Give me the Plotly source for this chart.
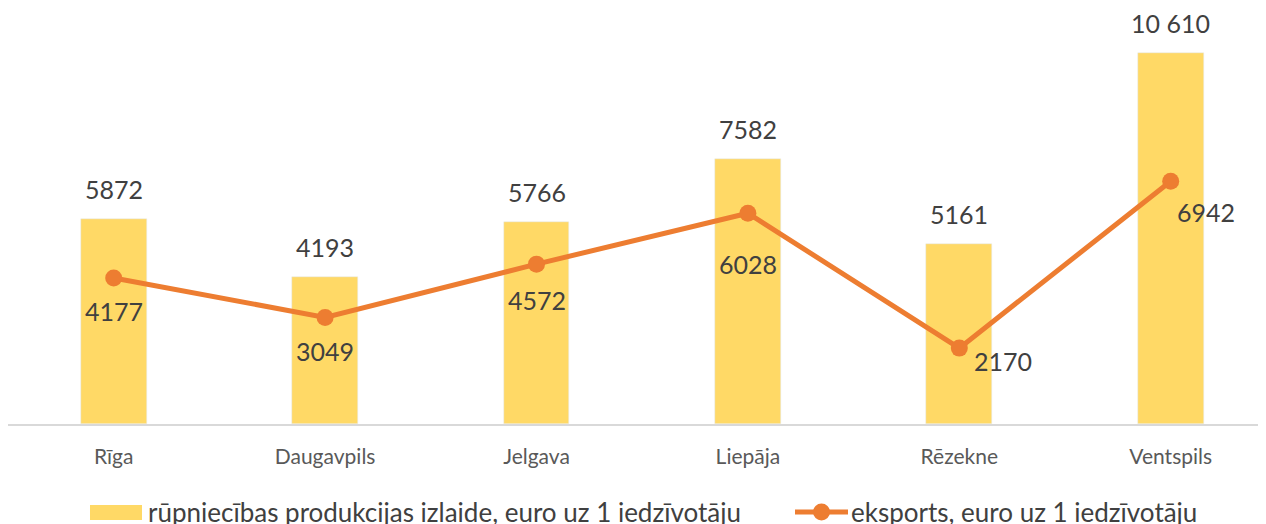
import plotly.graph_objects as go

categories = ["Rīga", "Daugavpils", "Jelgava", "Liepāja", "Rēzekne", "Ventspils"]
output_values = [5872, 4193, 5766, 7582, 5161, 10610]
export_values = [4177, 3049, 4572, 6028, 2170, 6942]
series_names = ["rūpniecības produkcijas izlaide, euro uz 1 iedzīvotāju",
                "eksports, euro uz 1 iedzīvotāju"]

# label offsets for the line labels (pixels): (xshift, yshift)
line_label_offsets = [(0, -33), (0, -34), (0, -36), (0, -51), (44, -13), (35, -31)]

BAR_COLOR = "#FFD966"
LINE_COLOR = "#ED7D31"
TEXT_COLOR = "#404040"
FONT = "Lato, Open Sans, sans-serif"

# page body has an 8px margin, so the figure's top-left sits at (8, 8)
OFF = 8
W, H = 1266 - OFF, 524 - OFF
PLOT_TOP, PLOT_BOTTOM = 8, 424          # in screenshot pixels
PLOT_LEFT, PLOT_RIGHT = 8, 1266
plot_h = PLOT_BOTTOM - PLOT_TOP
plot_w = PLOT_RIGHT - PLOT_LEFT


def fmt(v):
    return f"{v:,}".replace(",", " ") if v >= 10000 else str(v)


def px(x):
    return (x - PLOT_LEFT) / plot_w


def py(y):
    return (PLOT_BOTTOM - y) / plot_h


fig = go.Figure()
fig.add_trace(go.Bar(x=categories, y=output_values, name=series_names[0],
                     marker_color=BAR_COLOR, width=0.312, showlegend=False))
fig.add_trace(go.Scatter(x=categories, y=export_values, name=series_names[1],
                         mode="lines+markers",
                         line=dict(color=LINE_COLOR, width=5),
                         marker=dict(color=LINE_COLOR, size=17),
                         showlegend=False))

annotations = []
for c, v in zip(categories, output_values):
    annotations.append(dict(x=c, y=v, text=fmt(v), showarrow=False,
                            yanchor="bottom", yshift=13,
                            font=dict(size=25, color=TEXT_COLOR, family=FONT)))
for c, v, (dx, dy) in zip(categories, export_values, line_label_offsets):
    annotations.append(dict(x=c, y=v, text=fmt(v), showarrow=False,
                            yanchor="middle", xshift=dx, yshift=dy,
                            font=dict(size=25, color=TEXT_COLOR, family=FONT)))

# manual legend (bottom, partially cut off like the reference)
annotations.append(dict(xref="paper", yref="paper", x=px(146), y=py(512),
                        xanchor="left", yanchor="middle", showarrow=False,
                        text=series_names[0],
                        font=dict(size=26, color=TEXT_COLOR, family=FONT)))
annotations.append(dict(xref="paper", yref="paper", x=px(849), y=py(512),
                        xanchor="left", yanchor="middle", showarrow=False,
                        text=series_names[1],
                        font=dict(size=26, color=TEXT_COLOR, family=FONT)))

shapes = [
    dict(type="rect", xref="paper", yref="paper",
         x0=px(90), x1=px(142), y0=py(520), y1=py(505),
         fillcolor=BAR_COLOR, line=dict(width=0)),
    dict(type="line", xref="paper", yref="paper",
         x0=px(795), x1=px(848), y0=py(512), y1=py(512),
         line=dict(color=LINE_COLOR, width=5)),
    dict(type="circle", xref="paper", yref="paper",
         x0=px(813), x1=px(830), y0=py(520.5), y1=py(503.5),
         fillcolor=LINE_COLOR, line=dict(width=0)),
]

fig.update_layout(
    width=W, height=H,
    margin=dict(l=0, r=0, t=0, b=(H + OFF) - PLOT_BOTTOM),
    paper_bgcolor="white", plot_bgcolor="white",
    font=dict(family=FONT, color=TEXT_COLOR),
    annotations=annotations, shapes=shapes,
    bargap=0,
)
spacing = 211.4
fig.update_xaxes(range=[-0.5, -0.5 + plot_w / spacing], showline=True,
                 linecolor="#D9D9D9", linewidth=1.5,
                 showgrid=False, ticks="outside", ticklen=13, tickcolor="rgba(0,0,0,0)",
                 tickfont=dict(size=21, color="#595959", family=FONT))
fig.update_yaxes(range=[0, 10610 * plot_h / (424 - 53)], visible=False, showgrid=False)

fig.write_html("out.html")
